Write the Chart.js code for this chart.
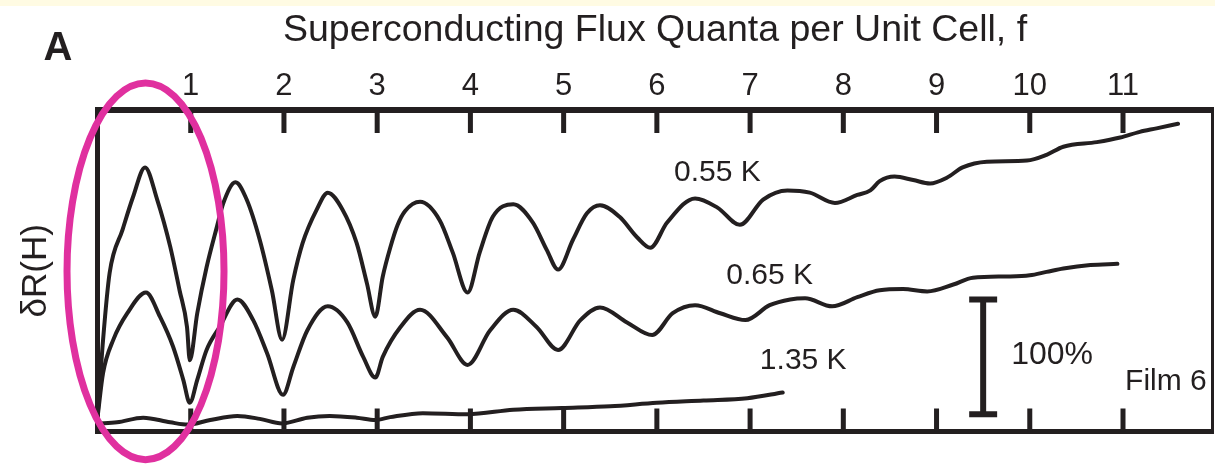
<!DOCTYPE html>
<html lang="en">
<head>
<meta charset="UTF-8">
<title>Superconducting Flux Quanta per Unit Cell</title>
<script src="https://cdn.jsdelivr.net/npm/chart.js@4.4.0/dist/chart.umd.min.js"></script>
<style>
  html, body { margin: 0; padding: 0; background: #fff; }
  #wrap { width: 1215px; height: 469px; }
</style>
</head>
<body>
<div id="wrap">
  <canvas id="fluxChart" width="1215" height="469"></canvas>
</div>

<script>
// flux quanta per unit cell (f) and resistance change (%) for each temperature
const f055 = [0, 0.06, 0.13, 0.27, 0.38, 0.51, 0.64, 0.78, 0.88, 0.96, 0.99, 1.07, 1.17, 1.28, 1.35, 1.48, 1.6, 1.74, 1.87, 1.98,
  2.1, 2.2, 2.35, 2.47, 2.63, 2.78, 2.89, 2.98, 3.06, 3.14, 3.22, 3.3, 3.46, 3.67, 3.81, 3.97, 4.1, 4.24, 4.46, 4.67, 4.82, 4.94,
  5.1, 5.25, 5.39, 5.6, 5.79, 5.93, 6.11, 6.41, 6.65, 6.89, 7.14, 7.4, 7.64, 7.91, 8.15, 8.29, 8.39, 8.55, 8.75, 8.93,
  9.11, 9.28, 9.54, 9.97, 10.18, 10.36, 10.72, 10.97, 11.18, 11.36, 11.59];
const r055 = [12, 80, 138, 176, 204, 230, 202, 161, 123, 91, 62, 103, 143, 178, 199, 217, 202, 167, 123, 80,
  132, 164, 193, 208, 193, 164, 129, 100, 135, 160, 180, 192, 200, 184, 156, 121, 156, 187, 198, 182, 158, 141,
  167, 190, 197, 187, 169, 160, 182, 203, 195, 180, 202, 210, 208, 199, 206, 210, 218, 222, 219, 216,
  221, 230, 235, 236, 241, 248, 252, 256, 261, 264, 268];

const f065 = [0, 0.06, 0.17, 0.32, 0.52, 0.67, 0.81, 0.92, 0.99, 1.07, 1.17, 1.31, 1.5, 1.67, 1.82, 1.99, 2.1, 2.25, 2.47,
  2.68, 2.85, 2.98, 3.06, 3.25, 3.46, 3.75, 3.97, 4.21, 4.46, 4.71, 4.94, 5.18, 5.39, 5.68, 5.95, 6.17, 6.41, 6.68, 6.95,
  7.21, 7.43, 7.59, 7.88, 8.15, 8.39, 8.64, 8.9, 9.18, 9.39, 9.76, 10.0, 10.18, 10.36, 10.65, 10.94];
const r065 = [12, 51, 80, 103, 121, 100, 74, 45, 25, 45, 71, 91, 115, 97, 68, 32, 56, 88, 109,
  95, 65, 47, 65, 91, 106, 82, 58, 88, 106, 91, 71, 97, 108, 95, 84, 103, 110, 103, 97,
  110, 115, 116, 109, 117, 123, 124, 122, 128, 134, 135, 136, 139, 142, 145, 146];

const f135 = [0, 0.21, 0.49, 0.78, 0.97, 1.21, 1.5, 1.74, 1.98, 2.25, 2.49, 2.78, 2.98, 3.14, 3.49, 3.97, 4.46, 4.98,
  5.5, 6.0, 6.5, 6.97, 7.35];
const r135 = [7, 8, 12, 8, 6, 10, 13.5, 11, 7, 12, 13.5, 12, 10, 12.5, 16, 15, 19, 20.5, 22, 25, 27, 29, 34];

const fluxTicks = [1, 2, 3, 4, 5, 6, 7, 8, 9, 10, 11];

// 100% scale bar
const barF = 9.5;
const barLow = 15;
const barSpan = 100;

const INK = '#231f20';
const FAMILY = "'Liberation Sans', Arial, Helvetica, sans-serif";

const toPoints = (xs, ys) => xs.map((x, i) => ({ x: x, y: ys[i] }));

const capHalf = 0.15;
const barPoints = [
  { x: barF - capHalf, y: barLow + barSpan }, { x: barF + capHalf, y: barLow + barSpan }, { x: barF, y: null },
  { x: barF, y: barLow + barSpan }, { x: barF, y: barLow }, { x: barF, y: null },
  { x: barF - capHalf, y: barLow }, { x: barF + capHalf, y: barLow }
];

// curve labels, placed in data units
const curveLabels = [
  { text: '0.55 K', x: 6.65, y: 225, size: 30 },
  { text: '0.65 K', x: 7.21, y: 135.5, size: 30 },
  { text: '1.35 K', x: 7.57, y: 62, size: 30 },
  { text: '100%', x: 10.24, y: 66.5, size: 32 },
  { text: 'Film 6', x: 11.46, y: 43, size: 30 }
];

// highlighted region around the first period
const ring = { x: 0.515, y: 139.5, rx: 0.842, ry: 164 };

const panelDecor = {
  id: 'panelDecor',
  beforeDraw(chart) {
    const { ctx, width, height } = chart;
    ctx.save();
    ctx.fillStyle = '#ffffff';
    ctx.fillRect(0, 0, width, height);
    ctx.fillStyle = '#fffbe3';
    ctx.fillRect(0, 0, width, 6);
    ctx.restore();
  },
  afterDatasetsDraw(chart) {
    const { ctx, chartArea: a, scales: { x, y } } = chart;
    ctx.save();
    ctx.strokeStyle = INK;
    ctx.lineCap = 'butt';

    // frame
    ctx.lineWidth = 6;
    ctx.beginPath();
    ctx.moveTo(a.left - 2.5, a.top); ctx.lineTo(a.right + 1.5, a.top);
    ctx.stroke();
    ctx.lineWidth = 5;
    ctx.beginPath();
    ctx.moveTo(a.left - 2.5, a.bottom); ctx.lineTo(a.right + 1.5, a.bottom);
    ctx.moveTo(a.left, a.top); ctx.lineTo(a.left, a.bottom);
    ctx.stroke();
    ctx.lineWidth = 3;
    ctx.beginPath();
    ctx.moveTo(a.right, a.top); ctx.lineTo(a.right, a.bottom);
    ctx.stroke();

    // inward tick marks, top and bottom
    ctx.lineWidth = 5;
    ctx.beginPath();
    x.ticks.forEach(t => {
      const px = x.getPixelForValue(t.value);
      ctx.moveTo(px, a.top); ctx.lineTo(px, a.top + 23);
      ctx.moveTo(px, a.bottom); ctx.lineTo(px, a.bottom - 23);
    });
    ctx.stroke();

    // labels
    ctx.fillStyle = INK;
    ctx.textAlign = 'center';
    ctx.textBaseline = 'middle';
    curveLabels.forEach(l => {
      ctx.font = l.size + 'px ' + FAMILY;
      ctx.fillText(l.text, x.getPixelForValue(l.x), y.getPixelForValue(l.y));
    });

    ctx.font = 'bold 40px ' + FAMILY;
    ctx.fillText('A', 58, 49);

    // ring
    const cx = x.getPixelForValue(ring.x);
    const cy = y.getPixelForValue(ring.y);
    const rx = x.getPixelForValue(ring.x + ring.rx) - cx;
    const ry = cy - y.getPixelForValue(ring.y + ring.ry);
    ctx.strokeStyle = '#e0309f';
    ctx.lineWidth = 7;
    ctx.beginPath();
    ctx.ellipse(cx, cy, rx, ry, 0, 0, Math.PI * 2);
    ctx.stroke();
    ctx.restore();
  }
};

const curve = (label, data) => ({
  label: label,
  data: data,
  borderColor: INK,
  borderWidth: 4,
  pointRadius: 0,
  cubicInterpolationMode: 'monotone',
  borderJoinStyle: 'round',
  borderCapStyle: 'round',
  fill: false
});

new Chart(document.getElementById('fluxChart'), {
  type: 'line',
  data: {
    datasets: [
      curve('0.55 K', toPoints(f055, r055)),
      curve('0.65 K', toPoints(f065, r065)),
      curve('1.35 K', toPoints(f135, r135)),
      {
        label: '100%',
        data: barPoints,
        borderColor: INK,
        borderWidth: 6,
        pointRadius: 0,
        tension: 0,
        spanGaps: false,
        borderCapStyle: 'butt'
      }
    ]
  },
  options: {
    responsive: false,
    animation: false,
    layout: { padding: { left: 0, right: 2.5, top: 0, bottom: 37.5 } },
    plugins: {
      legend: { display: false },
      tooltip: { enabled: false }
    },
    scales: {
      x: {
        type: 'linear',
        position: 'top',
        min: 0,
        max: 11.96,
        afterBuildTicks: s => { s.ticks = fluxTicks.map(v => ({ value: v })); },
        afterFit: s => { s.height = 110; },
        grid: { display: false, drawTicks: false },
        border: { display: false },
        ticks: { padding: 5, color: INK, font: { family: FAMILY, size: 31 }, maxRotation: 0, autoSkip: false },
        title: {
          display: true,
          text: 'Superconducting Flux Quanta per Unit Cell, f',
          color: INK,
          font: { family: FAMILY, size: 37.5 },
          padding: { top: 8, bottom: 0 }
        }
      },
      y: {
        type: 'linear',
        min: 0,
        max: 280,
        afterFit: s => { s.width = 97.5; },
        grid: { display: false, drawTicks: false },
        border: { display: false },
        ticks: { display: false },
        title: {
          display: true,
          text: 'δR(H)',
          color: INK,
          font: { family: FAMILY, size: 35 },
          padding: { top: 15, bottom: 0 }
        }
      }
    }
  },
  plugins: [panelDecor]
});
</script>
</body>
</html>
